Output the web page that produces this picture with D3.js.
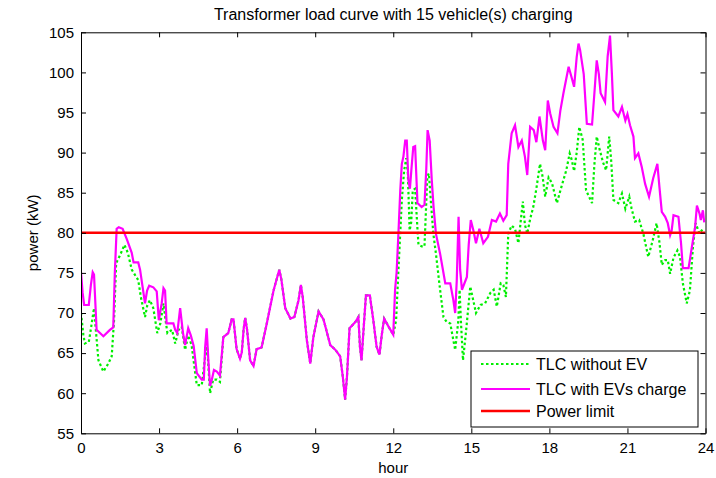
<!DOCTYPE html>
<html><head><meta charset="utf-8">
<script src="https://cdn.jsdelivr.net/npm/d3@7"></script>
<style>body{margin:0;background:#fff;} svg{display:block;} text{font-family:"Liberation Sans",Arial,sans-serif;fill:#000;}</style>
</head><body>
<script>
// ---- data ----
const title = "Transformer load curve with 15 vehicle(s) charging";
const xLabel = "hour";
const yLabel = "power (kW)";
const xTicks = [0,3,6,9,12,15,18,21,24];
const yTicks = [55,60,65,70,75,80,85,90,95,100,105];
const powerLimit = 80;
const seriesNames = ["TLC without EV","TLC with EVs charge","Power limit"];

const evHours = [0,0.06,0.12,0.3,0.38,0.45,0.5,0.6,0.86,1.11,1.24,1.3,1.37,1.45,1.6,1.76,1.95,2.02,2.2,2.27,2.46,2.54,2.62,2.78,2.91,2.99,3.1,3.17,3.23,3.29,3.55,3.62,3.7,3.81,3.92,4.0,4.12,4.22,4.33,4.45,4.64,4.72,4.77,4.83,4.9,4.96,5.03,5.11,5.22,5.34,5.47,5.66,5.79,5.86,5.98,6.11,6.18,6.25,6.31,6.38,6.5,6.63,6.75,6.94,7.14,7.4,7.62,7.7,7.85,8.05,8.2,8.36,8.45,8.52,8.68,8.81,8.93,9.13,9.32,9.58,9.78,9.96,10.06,10.15,10.22,10.27,10.32,10.55,10.66,10.72,10.78,10.86,10.95,11.1,11.23,11.36,11.47,11.56,11.65,11.82,12.0,12.07,12.13,12.2,12.27,12.33,12.39,12.46,12.52,12.58,12.64,12.7,12.77,12.84,12.93,13.09,13.2,13.27,13.32,13.4,13.48,13.55,13.64,13.8,14.0,14.19,14.31,14.38,14.44,14.51,14.57,14.64,14.83,14.9,14.98,15.08,15.18,15.31,15.46,15.64,15.79,15.95,16.1,16.23,16.36,16.42,16.55,16.68,16.81,16.94,17.06,17.15,17.26,17.4,17.5,17.62,17.75,17.84,17.94,18.03,18.16,18.31,18.42,18.54,18.74,18.86,18.95,19.05,19.12,19.18,19.32,19.44,19.64,19.73,19.82,19.9,19.97,20.14,20.24,20.33,20.4,20.46,20.65,20.79,20.92,21.0,21.1,21.23,21.29,21.42,21.55,21.68,21.83,21.99,22.15,22.23,22.32,22.45,22.55,22.64,22.7,22.77,22.96,23.06,23.13,23.35,23.48,23.6,23.67,23.77,23.82,23.9,23.95];
const evLoad = [75.1,72.6,71.0,71.0,73.5,75.1,74.8,67.9,67.1,67.9,68.2,75,80.5,80.7,80.5,79.2,77.5,76.3,76.3,75.4,71.2,72.8,73.4,73.2,72.7,69.1,71.2,73.1,72.8,68.7,68.7,67.9,67.5,70.6,67.5,66.0,68.1,67.2,65.9,62.5,61.7,61.7,65.7,68.1,63.8,60.9,61.7,62.9,62.7,62.2,67.0,67.5,69.2,69.2,65.5,64.3,65.1,68.0,69.4,68.0,64.1,63.4,65.5,65.7,68.7,72.8,75.4,74.2,70.6,69.3,69.5,71.6,73.5,72.0,66.6,63.7,67.0,70.2,69.2,66.0,65.4,64.6,62.1,59.2,62.0,65.0,68.1,68.9,69.5,65.8,64.1,68.0,72.2,72.2,69.2,65.8,64.8,67.3,69.3,68.3,67.3,72.9,75.1,80.0,85.3,88.6,89.5,91.5,91.5,86.6,85.5,88.0,90.7,90.8,83.7,83.2,83.5,88.0,92.8,91.5,86.6,83.2,79.9,77.4,73.7,73.7,71.6,70.0,74.0,82.0,75.4,72.9,74.5,78.5,81.6,80.3,78.7,80.5,78.7,79.5,81.6,81.4,82.4,81.5,82.2,88.6,92.4,93.4,90.7,91.5,89.5,87.2,93.2,92.8,91.3,94.5,91.5,90.3,96.5,94.9,93.2,92.4,95.2,97.4,100.7,99.3,98.2,101.9,103.6,102.8,99.8,93.6,93.5,97.4,101.5,99.8,97.4,96.3,102,104.6,100,95.3,94.5,95.7,94.0,94.8,93.4,92.0,89.3,89.9,88.2,86.1,84.5,86.8,88.6,85.7,82.6,82.0,81.2,79.7,80.3,82.2,82.0,78.7,75.6,75.6,78.3,80.7,83.4,82.4,81.6,82.8,81.3];

const baseHours = [0,0.09,0.15,0.3,0.36,0.43,0.5,0.58,0.67,0.86,1.05,1.18,1.27,1.35,1.5,1.67,1.8,1.95,2.2,2.3,2.46,2.55,2.65,2.78,2.93,3.05,3.17,3.25,3.32,3.5,3.62,3.75,3.87,4.0,4.12,4.25,4.45,4.64,4.77,4.85,4.96,5.08,5.22,5.34,5.47,5.66,5.79,5.86,5.98,6.11,6.18,6.25,6.31,6.38,6.5,6.63,6.75,6.94,7.14,7.4,7.62,7.7,7.85,8.05,8.2,8.36,8.45,8.52,8.68,8.81,8.93,9.13,9.32,9.58,9.78,9.96,10.06,10.15,10.22,10.27,10.32,10.55,10.66,10.72,10.78,10.86,10.95,11.1,11.23,11.36,11.47,11.56,11.65,11.82,12.0,12.11,12.2,12.33,12.42,12.5,12.56,12.63,12.69,12.75,12.84,12.93,12.97,13.1,13.2,13.24,13.31,13.37,13.45,13.54,13.64,13.8,13.93,14.05,14.19,14.31,14.38,14.5,14.55,14.6,14.68,14.8,14.96,15.08,15.18,15.35,15.53,15.73,15.86,15.98,16.13,16.23,16.33,16.42,16.55,16.68,16.81,16.9,16.98,17.06,17.15,17.26,17.38,17.5,17.64,17.74,17.84,17.97,18.1,18.29,18.46,18.65,18.78,18.86,18.95,19.05,19.15,19.28,19.41,19.64,19.73,19.82,19.93,20.06,20.18,20.3,20.38,20.46,20.65,20.79,20.92,21.07,21.16,21.29,21.45,21.61,21.8,21.96,22.12,22.23,22.32,22.45,22.55,22.64,22.77,22.92,23.02,23.13,23.28,23.4,23.52,23.62,23.77,23.9];
const baseLoad = [70.0,67.3,66.2,66.4,67.6,69.1,70.6,67.5,64.1,62.7,63.7,64.6,69.1,76.2,77.2,78.5,77.5,75.4,74.1,72.0,69.5,71.0,71.6,70.6,67.5,68.7,71.2,69.1,67.5,67.9,66.2,67.9,68.3,65.4,67.2,66.0,61.0,61.0,64.5,65.8,60.0,61.7,61.7,61.4,67.0,67.5,69.2,69.2,65.5,64.3,65.1,68.0,69.4,68.0,64.1,63.4,65.5,65.7,68.7,72.8,75.4,74.2,70.6,69.3,69.5,71.6,73.5,72.0,66.6,63.7,67.0,70.2,69.2,66.0,65.4,64.6,62.1,59.2,62.0,65.0,68.1,68.9,69.5,65.8,64.1,68.0,72.2,72.2,69.2,65.8,64.8,67.3,69.3,68.3,67.3,69.1,75.4,84.1,87.8,89.3,87.5,80.3,81.3,85.3,85.5,80.5,78.5,78.3,78.3,81.5,87.0,87.4,83.7,79.9,77.4,72.9,69.5,68.9,68.7,66.6,65.4,69.0,72.9,69.0,64.1,67.8,73.3,71.5,70.0,71.0,71.2,72.5,72.9,70.8,73.7,73.5,72.0,79.9,80.9,80.5,78.7,81.5,83.9,81.0,79.9,81.7,83.2,85.5,88.6,87.0,84.5,86.9,86.2,83.7,85.7,87.8,89.9,89.1,87.7,90.0,93.2,91.6,85.3,83.7,88.5,92.0,90.4,88.8,87.8,92.0,88.8,84.1,83.7,84.9,83.0,84.5,83.0,81.4,81.6,79.9,77.0,78.9,81.2,78.8,76.0,76.6,76.6,74.9,76.9,77.8,77.0,73.7,71.2,72.8,78.3,81.2,79.9,80.5];

// ---- layout ----
const W = 716, H = 478;
const L = 81, R = 705.5, T = 32.3, B = 433.3;
const svg = d3.select("body").append("svg").attr("width", W).attr("height", H);
const x = d3.scaleLinear().domain([0,24]).range([L,R]);
const y = d3.scaleLinear().domain([55,105]).range([B,T]);

svg.append("defs").append("clipPath").attr("id","clip")
  .append("rect").attr("x",L).attr("y",T).attr("width",R-L).attr("height",B-T);

const g = svg.append("g").attr("clip-path","url(#clip)");
const line = d3.line().x(d=>x(d[0])).y(d=>y(d[1]));
g.append("path").datum(baseHours.map((h,i)=>[h,baseLoad[i]]))
  .attr("d",line).attr("fill","none").attr("stroke","#00ee00").attr("stroke-width",2.2)
  .attr("stroke-dasharray","2.5,2.5");
g.append("path").datum(evHours.map((h,i)=>[h,evLoad[i]]))
  .attr("d",line).attr("fill","none").attr("stroke","#ff00ff").attr("stroke-width",2.2);
g.append("line").attr("x1",x(0)).attr("x2",x(24)).attr("y1",y(powerLimit)).attr("y2",y(powerLimit))
  .attr("stroke","#ff0000").attr("stroke-width",2.5);

// axes with inward ticks
const tk = 5;
const axB = svg.append("g").attr("transform",`translate(0,${B})`)
  .call(d3.axisBottom(x).tickValues(xTicks).tickSizeInner(-tk).tickSizeOuter(0).tickPadding(9));
const axT = svg.append("g").attr("transform",`translate(0,${T})`)
  .call(d3.axisTop(x).tickValues(xTicks).tickSizeInner(-tk).tickSizeOuter(0).tickFormat(""));
const axL = svg.append("g").attr("transform",`translate(${L},0)`)
  .call(d3.axisLeft(y).tickValues(yTicks).tickSizeInner(-tk).tickSizeOuter(0).tickPadding(7));
const axR = svg.append("g").attr("transform",`translate(${R},0)`)
  .call(d3.axisRight(y).tickValues(yTicks).tickSizeInner(-tk).tickSizeOuter(0).tickFormat(""));
[axB,axT,axL,axR].forEach(a=>{
  a.select(".domain").attr("stroke","#000").attr("stroke-width",1);
  a.selectAll(".tick line").attr("stroke","#000");
  a.selectAll("text").style("font-family","'Liberation Sans',Arial,sans-serif").style("font-size","15px").attr("fill","#000");
});

// titles
svg.append("text").attr("x",(L+R)/2).attr("y",20).attr("text-anchor","middle")
  .style("font-size","16px").text(title);
svg.append("text").attr("x",(L+R)/2).attr("y",473).attr("text-anchor","middle")
  .style("font-size","15px").text(xLabel);
svg.append("text").attr("transform",`translate(38,${(T+B)/2}) rotate(-90)`).attr("text-anchor","middle")
  .style("font-size","15px").text(yLabel);

// legend
const lg = svg.append("g");
lg.append("rect").attr("x",471).attr("y",351).attr("width",227).attr("height",76)
  .attr("fill","#fff").attr("stroke","#000").attr("stroke-width",1);
const rows = [364,389,411];
const styles = [
  {c:"#00ee00",d:"2.5,2.5"},{c:"#ff00ff",d:null},{c:"#ff0000",d:null}
];
seriesNames.forEach((n,i)=>{
  const ln = lg.append("line").attr("x1",481).attr("x2",530).attr("y1",rows[i]).attr("y2",rows[i])
    .attr("stroke",styles[i].c).attr("stroke-width",i===2?2.5:2.2);
  if(styles[i].d) ln.attr("stroke-dasharray",styles[i].d);
  lg.append("text").attr("x",536).attr("y",rows[i]+5.5).style("font-size","16px").text(n);
});
</script>
</body></html>
